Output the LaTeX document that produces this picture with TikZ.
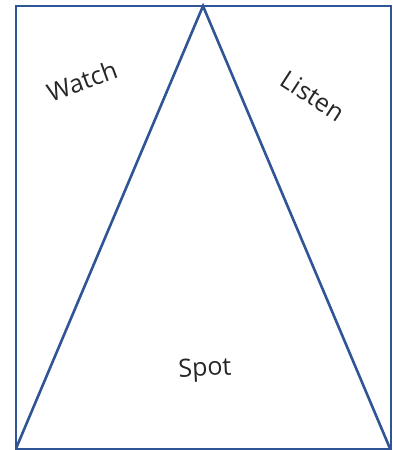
\documentclass[tikz,border=0pt]{standalone}
\usepackage{fontspec}
\setmainfont{Open Sans}
\definecolor{frameblue}{HTML}{2F5597}
\begin{document}
\begin{tikzpicture}[x=1pt,y=1pt,
  edge/.style={draw=frameblue,line width=2.6pt,line join=miter},
  lbl/.style={font=\fontsize{25}{28}\selectfont,text=black!85}]
\useasboundingbox (0,0) rectangle (392,450);
\coordinate (tl) at (16,444);
\coordinate (tr) at (391,444);
\coordinate (br) at (391,0.5);
\coordinate (bl) at (16,0.5);
\coordinate (apex) at (203,444);
\coordinate (baseL) at (16,1.5);
\coordinate (baseR) at (390,1.5);
\draw[edge] (tl) -- (tr) -- (br) -- (bl) -- cycle;
\draw[edge] (baseL) -- (apex) -- (baseR);
\node[lbl,rotate=20] (watch) at (82,369) {Watch};
\node[lbl,rotate=-33] (listen) at (313,354) {Listen};
\node[lbl,rotate=3] (spot) at (205,80) {Spot};
\end{tikzpicture}
\end{document}
